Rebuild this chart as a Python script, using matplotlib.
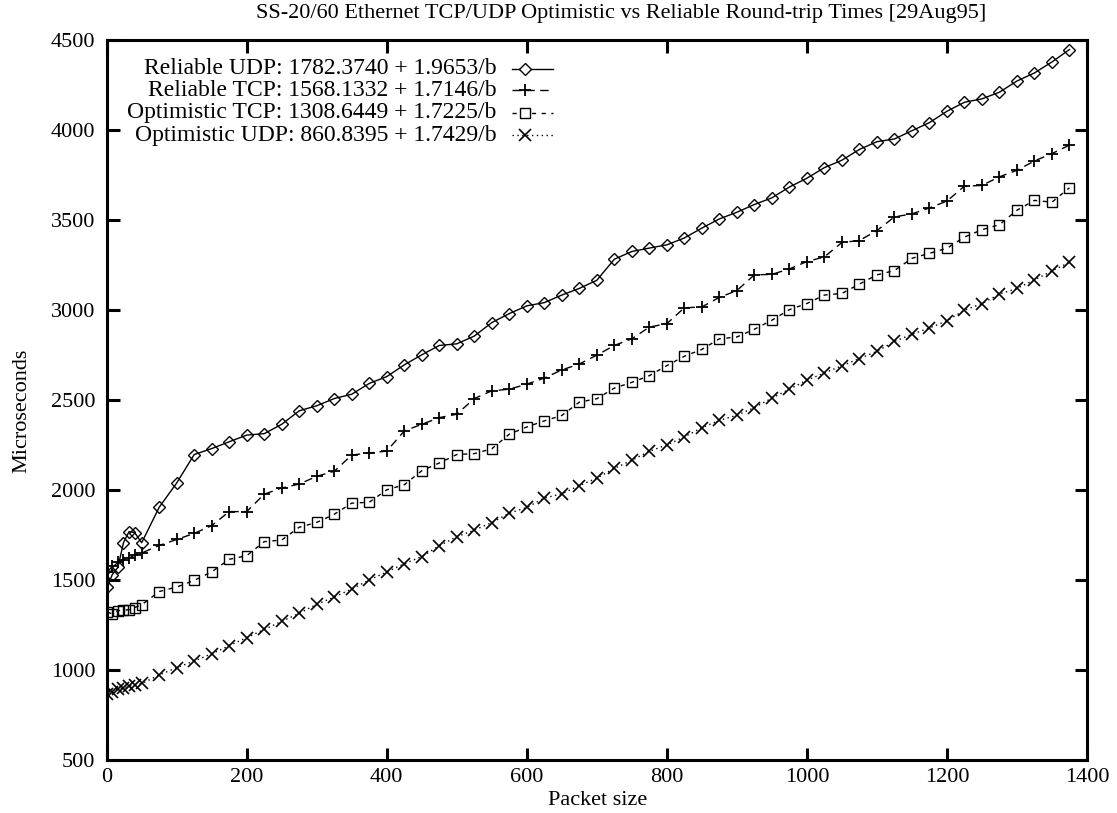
import matplotlib
matplotlib.use("Agg")
import matplotlib.pyplot as plt
from matplotlib.lines import Line2D

plt.rcParams['font.family'] = ['Liberation Serif', 'DejaVu Serif']

# packet sizes (bytes)
sizes = [1, 8, 16, 24, 32, 40, 50] + list(range(75, 1376, 25))

rel_udp = [1461, 1530, 1570, 1707, 1769, 1763, 1707,
           1904, 2039, 2197, 2230, 2268, 2305, 2313, 2365, 2440, 2468,
           2508, 2532, 2592, 2630, 2695, 2751, 2803, 2812, 2855, 2930,
           2980, 3023, 3041, 3083, 3120, 3165, 3282, 3325, 3344, 3362,
           3400, 3455, 3506, 3543, 3586, 3623, 3683, 3732, 3791, 3832,
           3892, 3935, 3950, 3996, 4041, 4104, 4154, 4173, 4210, 4272,
           4317, 4378, 4447]

rel_tcp = [1545, 1575, 1600, 1612, 1622, 1638, 1650,
           1692, 1725, 1759, 1802, 1880, 1880, 1977, 2011, 2033, 2076,
           2104, 2194, 2206, 2216, 2328, 2365, 2402, 2421, 2508, 2551,
           2560, 2588, 2622, 2667, 2700, 2749, 2803, 2840, 2905, 2924,
           3012, 3017, 3070, 3108, 3195, 3198, 3228, 3269, 3295, 3375,
           3386, 3441, 3517, 3534, 3567, 3605, 3688, 3692, 3740, 3776,
           3828, 3869, 3916]

opt_tcp = [1321, 1312, 1330, 1332, 1335, 1347, 1362,
           1436, 1461, 1498, 1545, 1615, 1635, 1713, 1722, 1793, 1820,
           1865, 1927, 1932, 2001, 2029, 2107, 2150, 2197, 2202, 2229,
           2310, 2350, 2384, 2414, 2488, 2507, 2566, 2598, 2635, 2691,
           2743, 2781, 2840, 2850, 2893, 2943, 3002, 3036, 3083, 3092,
           3144, 3195, 3219, 3287, 3315, 3343, 3405, 3446, 3474, 3554,
           3609, 3599, 3679]

opt_udp = [864, 880, 892, 902, 910, 916, 925,
           972, 1013, 1050, 1090, 1135, 1180, 1225, 1270, 1315, 1365,
           1405, 1450, 1500, 1545, 1590, 1630, 1690, 1740, 1777, 1819,
           1871, 1903, 1955, 1979, 2024, 2066, 2120, 2165, 2215, 2250,
           2295, 2346, 2387, 2415, 2458, 2510, 2560, 2610, 2650, 2690,
           2730, 2770, 2825, 2865, 2900, 2940, 2999, 3036, 3088, 3120,
           3167, 3217, 3265]

labels = ['Reliable UDP: 1782.3740 + 1.9653/b',
          'Reliable TCP: 1568.1332 + 1.7146/b',
          'Optimistic TCP: 1308.6449 + 1.7225/b',
          'Optimistic UDP: 860.8395 + 1.7429/b']

styles = [
    dict(linestyle='-', marker='D', markersize=6),
    dict(linestyle=(0, (6, 4)), marker='+', markersize=9, markeredgewidth=1.3),
    dict(linestyle=(0, (3, 4)), marker='s', markersize=7.5),
    dict(linestyle=(0, (1, 2.5)), marker='x', markersize=8, markeredgewidth=1.2),
]

fig = plt.figure(figsize=(11.17, 8.13), dpi=100)
ax = fig.add_axes([0.0955, 0.0652, 0.8776, 0.8856])

for ys, st in zip([rel_udp, rel_tcp, opt_tcp, opt_udp], styles):
    ax.plot(sizes, ys, color='black', linewidth=1.0,
            markerfacecolor='none', markeredgecolor='black', **st)

ax.set_xlim(0, 1400)
ax.set_ylim(500, 4500)
ax.set_xticks(range(0, 1401, 200))
ax.set_yticks(range(500, 4501, 500))

for sp in ax.spines.values():
    sp.set_linewidth(2.2)
ax.tick_params(direction='in', length=9, width=2.2, top=True, right=True,
               labelsize=16, pad=8)
ax.tick_params(axis='x', pad=6)

fig.text(0.556, 0.984, 'SS-20/60 Ethernet TCP/UDP Optimistic vs Reliable Round-trip Times [29Aug95]',
         ha='center', va='center', fontsize=16)
fig.text(0.535, 0.015, 'Packet size', ha='center', va='center', fontsize=16)
fig.text(0.02, 0.495, 'Microseconds', ha='center', va='center', rotation=90, fontsize=16)

# key: text right-aligned, sample line to its right
rows = [0.960, 0.930, 0.899, 0.868]
for lab, st, yr in zip(labels, styles, rows):
    ax.text(0.398, yr, lab, transform=ax.transAxes, ha='right', va='center', fontsize=17)
    ax.add_line(Line2D([0.4135, 0.455], [yr, yr], transform=ax.transAxes,
                       color='black', linewidth=1.0, linestyle=st['linestyle']))
    mk = {k: v for k, v in st.items() if k != 'linestyle'}
    ax.add_line(Line2D([0.4267], [yr], transform=ax.transAxes, linestyle='none',
                       markerfacecolor='white', markeredgecolor='black', **mk))

fig.savefig('out.png', dpi=100)
